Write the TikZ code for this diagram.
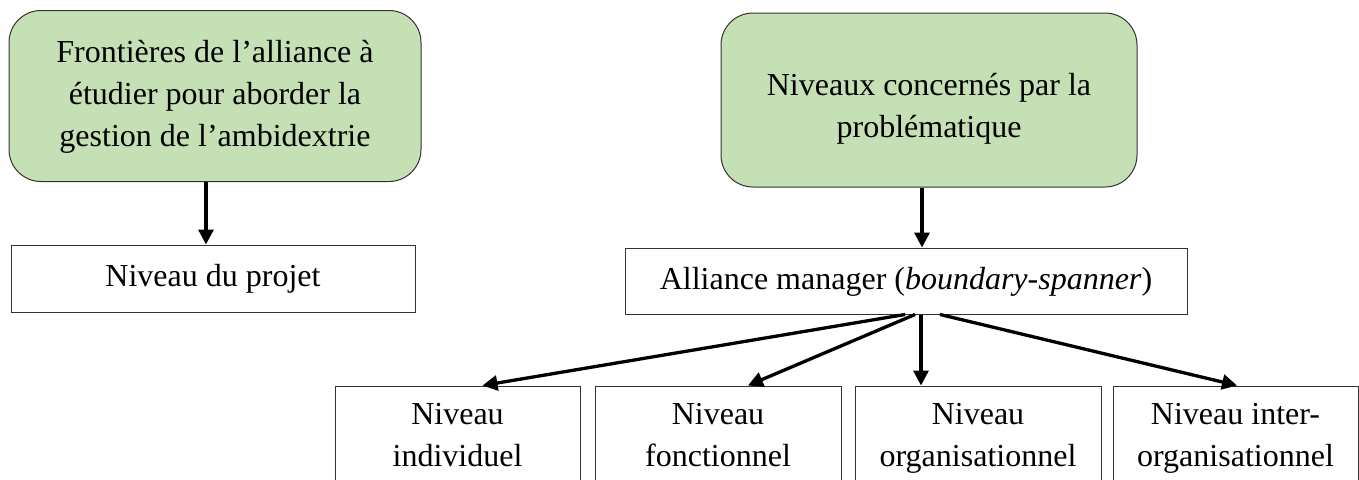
\documentclass[tikz,border=0pt]{standalone}
\usepackage{fontspec}
\setmainfont{Liberation Serif}
\usetikzlibrary{arrows.meta}
\definecolor{leafgreen}{HTML}{C5E0B4}

\tikzset{
  headbox/.style={draw=black!80, line width=1pt, fill=leafgreen, rounded corners=32pt, align=center, inner sep=0pt},
  levelbox/.style={draw=black!80, line width=1pt, fill=white, align=center, inner sep=0pt},
  arr/.style={line width=3.3pt, -{Triangle[length=15pt,width=15pt]}}
}

\begin{document}
\begin{tikzpicture}
[x=1pt,y=-1pt,font=\fontsize{32}{42}\selectfont]
\clip (0,0) rectangle (1359,479);
\fill[white] (0,0) rectangle (1359,479);

\node[headbox, minimum width=412pt, minimum height=171pt] (front) at (215,96) {\strut Frontières de l’alliance à\\étudier pour aborder la\\gestion de l’ambidextrie\strut};
\node[levelbox, minimum width=404pt, minimum height=67pt] (proj) at (213,278.5) {\strut Niveau du projet};

\node[headbox, minimum width=416pt, minimum height=174pt] (niv) at (929,100) {\rule{0pt}{45pt}Niveaux concernés par la\\problématique\strut};
\node[levelbox, minimum width=562pt, minimum height=66pt] (am) at (906,281) {\strut Alliance manager (\textit{boundary-spanner})};

\node[levelbox, minimum width=245pt, minimum height=102pt] (ind) at (457.5,437) {\strut Niveau\\individuel\strut};
\node[levelbox, minimum width=246pt, minimum height=102pt] (fon) at (718,437) {\strut Niveau\\fonctionnel\strut};
\node[levelbox, minimum width=246pt, minimum height=102pt] (org) at (978,437) {\strut Niveau\\organisationnel\strut};
\node[levelbox, minimum width=245pt, minimum height=102pt] (inter) at (1235.5,437) {\strut Niveau inter-\\organisationnel\strut};

\draw[arr] ([xshift=-9pt]front.south) -- ([xshift=-9pt]front.south |- proj.north);
\draw[arr] ([xshift=-7pt]niv.south) -- ([xshift=-7pt]niv.south |- am.north);

\foreach \from/\to/\dx in {-1/ind/25,9/fon/30,15/org/-57,34/inter/1.5}
\draw[arr] ([xshift=\from pt]am.south) -- ([xshift=\dx pt]\to.north);
\end{tikzpicture}
\end{document}
